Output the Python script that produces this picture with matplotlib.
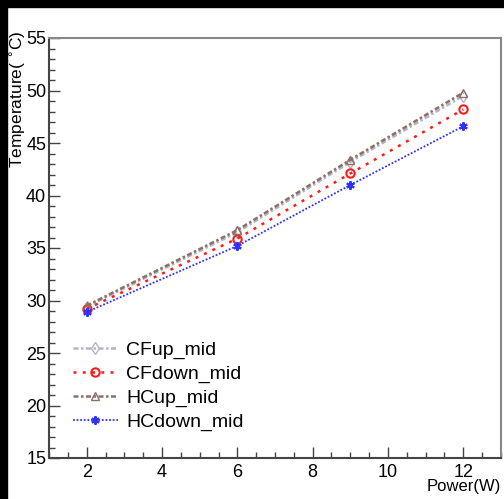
import matplotlib
matplotlib.use("Agg")
import matplotlib.pyplot as plt
from matplotlib.ticker import MultipleLocator
from matplotlib.patches import Rectangle

power = [2, 6, 9, 12]
cfup_mid = [29.4, 36.5, 43.2, 49.5]
cfdown_mid = [29.2, 35.9, 42.1, 48.2]
hcup_mid = [29.5, 36.7, 43.4, 49.8]
hcdown_mid = [28.9, 35.2, 41.0, 46.6]

plt.rcParams['font.family'] = ['Liberation Sans', 'DejaVu Sans']

fig = plt.figure(figsize=(5.04, 4.99), dpi=100)
fig.patch.set_facecolor('white')
W, H = 504, 499
ax = fig.add_axes([49 / W, 1 - 458 / H, (501 - 49) / W, (458 - 38) / H])

ax.plot(power, cfup_mid, color='#b4b4c8', linestyle=(0, (2, 1, 1, 1)), lw=1.8,
        marker='d', markersize=6, markerfacecolor='none', markeredgecolor='#b4b4c8',
        label='CFup_mid')
ax.plot(power, cfdown_mid, color='#ff1a1a', linestyle=(0, (1.2, 2.5)), lw=1.8,
        marker='o', markersize=6, markerfacecolor='none', markeredgecolor='#ff1a1a',
        markeredgewidth=1.5, label='CFdown_mid')
ax.plot(power, hcup_mid, color='#8c7064', linestyle=(0, (2, 1, 1, 1)), lw=1.8,
        marker='^', markersize=6, markerfacecolor='none', markeredgecolor='#8c7064',
        label='HCup_mid')
ax.plot(power, hcdown_mid, color='#3030ff', linestyle=(0, (1, 1)), lw=1.3,
        marker=(6, 2, 0), markersize=6, markeredgewidth=1.5, label='HCdown_mid')

ax.set_xlim(1, 13)
ax.set_ylim(15, 55)
ax.xaxis.set_major_locator(MultipleLocator(2))
ax.xaxis.set_minor_locator(MultipleLocator(0.5))
ax.yaxis.set_major_locator(MultipleLocator(5))
ax.yaxis.set_minor_locator(MultipleLocator(1))
ax.tick_params(which='both', direction='in', colors='#444444', labelcolor='black',
               labelsize=13)
ax.tick_params(which='major', length=8, width=1)
ax.tick_params(which='minor', length=4, width=1)
ax.tick_params(axis='y', pad=2)
ax.tick_params(axis='x', pad=4)
for s in ax.spines.values():
    s.set_color('#888888')
    s.set_linewidth(1.5)
ax.spines['left'].set_color('#444444')
ax.spines['bottom'].set_color('#444444')

fig.text(18 / W, 1 - 30 / H, 'Temperature( $^{\\circ}$C)', rotation=90,
         ha='center', va='top', fontsize=12.5)
fig.text(501 / W, 1 - 487 / H, 'Power(W)', ha='right', va='center', fontsize=12)

leg = ax.legend(loc='upper left', bbox_to_anchor=(24 / 452, 1 - 303 / 420),
                frameon=False, fontsize=14, handlelength=2.3, handletextpad=0.45,
                labelspacing=0.33, borderaxespad=0, borderpad=0)

fig.patches.append(Rectangle((0, 1 - 7 / H), 1, 7 / H, transform=fig.transFigure,
                             color='black', zorder=10))
fig.patches.append(Rectangle((0, 0), 7 / W, 1, transform=fig.transFigure,
                             color='black', zorder=10))

fig.savefig('out.png', dpi=100, facecolor='white')
